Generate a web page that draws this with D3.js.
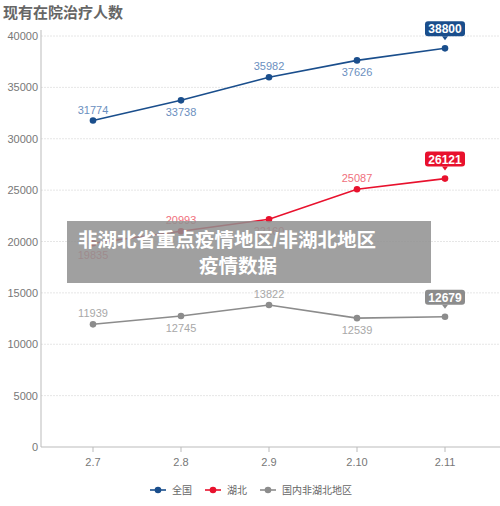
<!DOCTYPE html><html><head><meta charset="utf-8"><script src="https://cdn.jsdelivr.net/npm/d3@7"></script>
<style>body{margin:0;background:#fff}text{font-family:"Liberation Sans","Noto Sans CJK SC",sans-serif}</style></head><body><svg id="c" width="500" height="506"></svg><script>
const categories=["2.7","2.8","2.9","2.10","2.11"];
const national=[31774,33738,35982,37626,38800];
const hubei=[19835,20993,22160,25087,26121];
const nonHubei=[11939,12745,13822,12539,12679];
const yTicks=[0,5000,10000,15000,20000,25000,30000,35000,40000];
const seriesNames=["全国","湖北","国内非湖北地区"];
const labelPos=[[-1,1,-1,1],[1,-1,1,-1],[-1,1,-1,1]];
const colors=["#1a4e8c","#e8112d","#8c8c8c"], lblColors=["#6b8fc0","#f0707c","#a8a8a8"];
const svg=d3.select("#c");
const x=d3.scalePoint().domain(categories).range([93,445]);
const y=d3.scaleLinear().domain([0,40000]).range([447,36]);
svg.append("text").attr("x",3).attr("y",18).attr("font-size",15).attr("font-weight","bold").attr("fill","#666").attr("font-family","Noto Sans CJK SC").text("现有在院治疗人数");
const g=svg.append("g");
yTicks.forEach(t=>{if(t>0)g.append("line").attr("x1",41).attr("x2",500).attr("y1",y(t)).attr("y2",y(t)).attr("stroke","#e6e6e6").attr("stroke-dasharray","2,1");
 g.append("text").attr("x",38).attr("y",y(t)+4).attr("text-anchor","end").attr("font-size",11).attr("fill","#777").text(t);});
g.append("line").attr("x1",41).attr("x2",41).attr("y1",30).attr("y2",447).attr("stroke","#bbb");
g.append("line").attr("x1",41).attr("x2",500).attr("y1",447).attr("y2",447).attr("stroke","#bbb");
categories.forEach(c=>{g.append("line").attr("x1",x(c)).attr("x2",x(c)).attr("y1",447).attr("y2",452).attr("stroke","#bbb");
 g.append("text").attr("x",x(c)).attr("y",466).attr("text-anchor","middle").attr("font-size",11).attr("fill","#777").text(c);});
[national,hubei,nonHubei].forEach((data,si)=>{
 const line=d3.line().x((d,i)=>x(categories[i])).y(d=>y(d));
 g.append("path").attr("d",line(data)).attr("fill","none").attr("stroke",colors[si]).attr("stroke-width",1.6);
 data.forEach((d,i)=>{const cx=x(categories[i]),cy=y(d);
  g.append("circle").attr("cx",cx).attr("cy",cy).attr("r",3.3).attr("fill",colors[si]);
  if(i<4){g.append("text").attr("x",cx).attr("y",labelPos[si][i]<0?cy-7:cy+16).attr("text-anchor","middle").attr("font-size",11).attr("fill",lblColors[si]).text(d);}
  else{const by=cy-27,w=40,h=15;
   g.append("rect").attr("x",cx-w/2).attr("y",by).attr("width",w).attr("height",h).attr("rx",3).attr("fill",colors[si]);
   g.append("path").attr("d",`M${cx-3},${by+h}L${cx},${by+h+4}L${cx+3},${by+h}Z`).attr("fill",colors[si]);
   g.append("text").attr("x",cx).attr("y",by+12).attr("text-anchor","middle").attr("font-size",12).attr("font-weight","bold").attr("fill","#fff").text(d);}
 });
});
const lx=[150,205,260];
seriesNames.forEach((n,i)=>{const L=svg.append("g").attr("transform",`translate(${lx[i]},490)`);
 L.append("line").attr("x1",0).attr("x2",16).attr("stroke",colors[i]).attr("stroke-width",1.6);
 L.append("circle").attr("cx",8).attr("r",3.3).attr("fill",colors[i]);
 L.append("text").attr("x",22).attr("y",4).attr("font-size",10).attr("fill","#666").text(n);});
svg.append("rect").attr("x",67).attr("y",221).attr("width",364).attr("height",62).attr("fill","#8f8f8f").attr("opacity",0.85);
svg.append("text").attr("x",78).attr("y",247).attr("font-size",19.5).attr("font-weight","bold").attr("fill","#fff").attr("font-family","Noto Sans CJK SC").text("非湖北省重点疫情地区/非湖北地区");
svg.append("text").attr("x",238).attr("y",273).attr("text-anchor","middle").attr("font-size",19.5).attr("font-weight","bold").attr("fill","#fff").attr("font-family","Noto Sans CJK SC").text("疫情数据");
</script></body></html>
